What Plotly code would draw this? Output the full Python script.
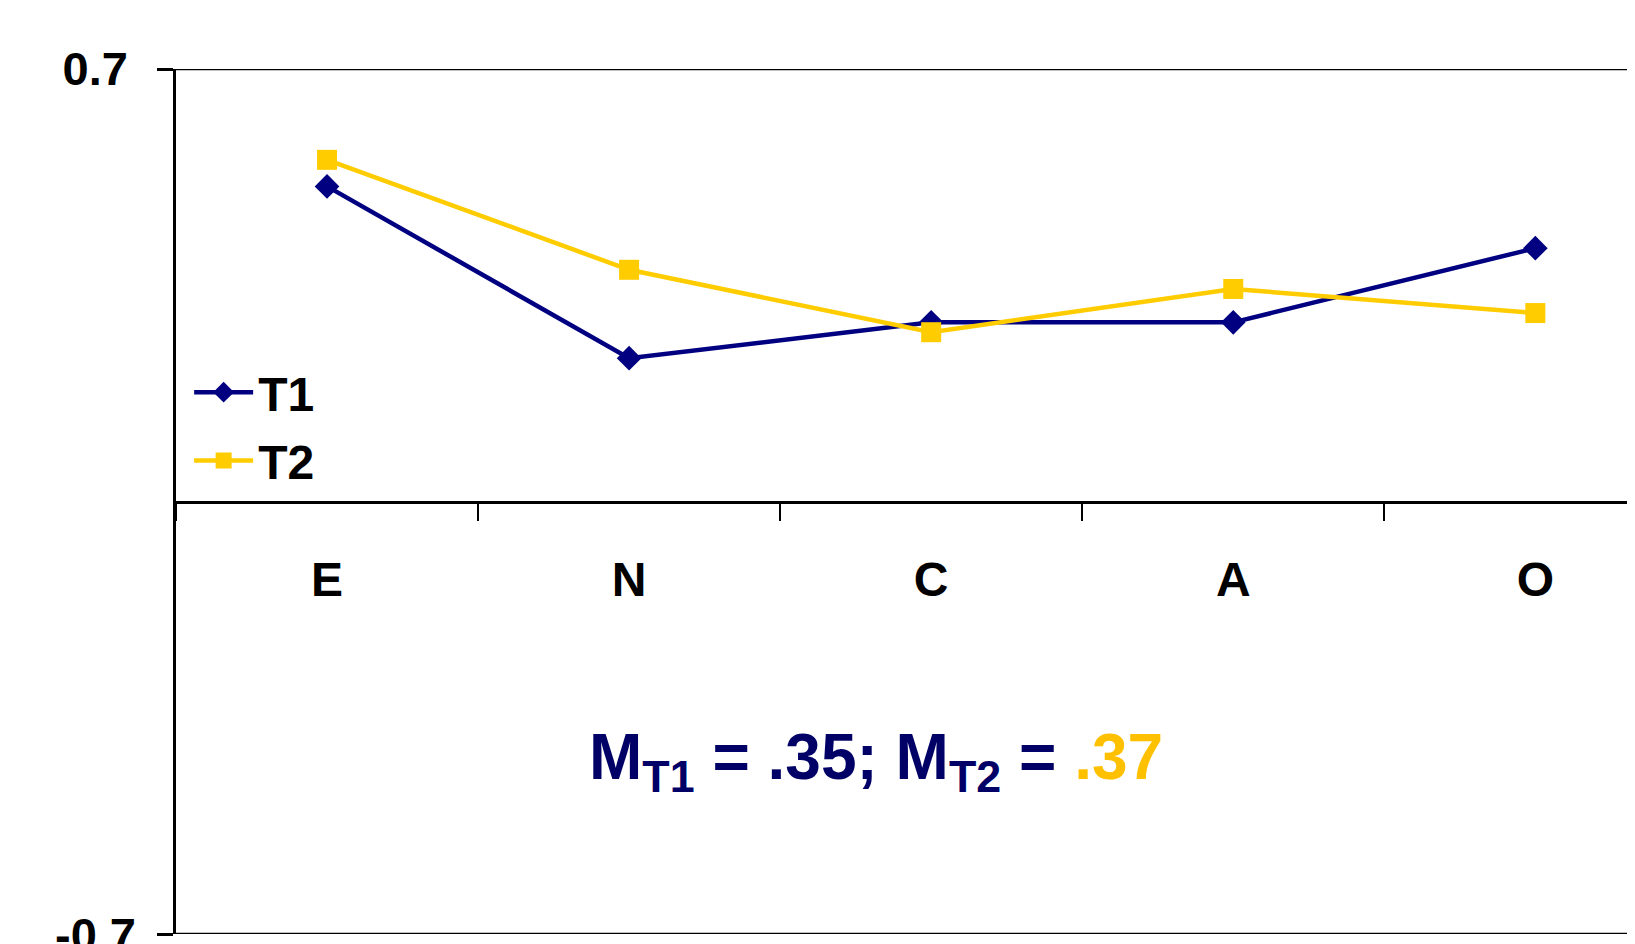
import plotly.graph_objects as go

categories = ["E", "N", "C", "A", "O"]
t1_values = [0.51, 0.232, 0.29, 0.29, 0.41]
t2_values = [0.553, 0.375, 0.274, 0.344, 0.305]
y_tick_vals = [-0.7, 0.7]
y_tick_text = ["-0.7", "0.7"]
mean_t1 = ".35"
mean_t2 = ".37"

NAVY = "#000080"
YELLOW = "#FFCC00"
FONT = "Liberation Sans, Arial, sans-serif"

fig = go.Figure()
fig.add_trace(go.Scatter(
    x=categories, y=t1_values, name="T1", mode="lines+markers",
    line=dict(color=NAVY, width=4.5),
    marker=dict(symbol="diamond", size=19, color=NAVY),
    legendgroup="a",
))
fig.add_trace(go.Scatter(
    x=categories, y=t2_values, name="T2", mode="lines+markers",
    line=dict(color=YELLOW, width=4.5),
    marker=dict(symbol="square", size=20, color=YELLOW),
    legendgroup="b",
))

fig.update_layout(
    width=1635, height=944,
    margin=dict(l=168, r=8, t=61, b=18),
    paper_bgcolor="white", plot_bgcolor="white",
    font=dict(family=FONT, color="black"),
    showlegend=True,
    legend=dict(
        x=0.009, y=0.67, xanchor="left", yanchor="top",
        font=dict(size=48, family=FONT, weight="bold", color="black"),
        bgcolor="rgba(0,0,0,0)", tracegroupgap=3, itemwidth=59,
    ),
    xaxis=dict(
        type="category", categoryorder="array", categoryarray=categories,
        range=[-0.5, 4.33], anchor="free", position=0.5,
        showline=True, linecolor="black", linewidth=2.5,
        ticks="outside", tickson="boundaries", ticklen=18, tickwidth=2, tickcolor="black",
        tickfont=dict(size=48, family=FONT, weight="bold", color="black"),
        ticklabelstandoff=35,
        showgrid=False, zeroline=False,
    ),
    yaxis=dict(
        range=[-0.7, 0.7], domain=[0, 1], automargin=False,
        showline=True, linecolor="black", linewidth=2.5,
        ticks="outside", ticklen=16, tickwidth=2.5, tickcolor="black",
        tickvals=y_tick_vals, ticktext=["", y_tick_text[1]],
        tickfont=dict(size=47, family=FONT, weight="bold", color="black"),
        ticklabelstandoff=20,
        showgrid=False, zeroline=False,
    ),
)

# top and bottom frame lines
for yv in y_tick_vals:
    fig.add_shape(type="line", xref="paper", yref="y", x0=0, x1=1, y0=yv, y1=yv,
                  line=dict(color="black", width=2.5), layer="below")

# bottom tick label (drawn as text so it is not dropped at the page edge)
fig.add_annotation(
    xref="paper", yref="y", x=-0.0267, y=y_tick_vals[0], xanchor="right", yanchor="middle",
    showarrow=False, text="<b>" + y_tick_text[0] + "</b>",
    font=dict(size=47, family=FONT, color="black"), borderpad=0,
)

fig.add_annotation(
    xref="paper", yref="paper", x=0.48, y=0.2, xanchor="center", yanchor="middle",
    showarrow=False,
    text=("<b>M<sub>T1</sub> = " + mean_t1 + "; M<sub>T2</sub> = "
          "<span style='color:#FFC000'>" + mean_t2 + "</span></b>"),
    font=dict(size=64, family=FONT, color="#000066"),
)

fig.write_html("out.html")
